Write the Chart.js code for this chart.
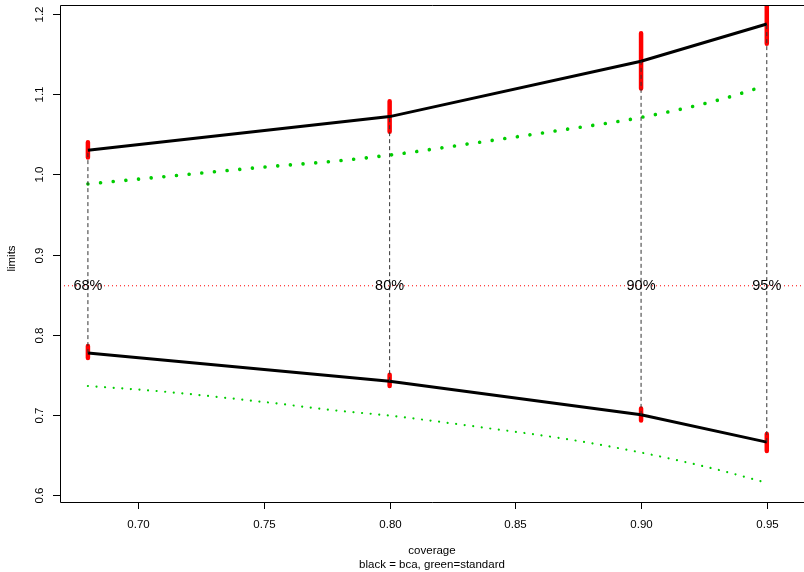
<!DOCTYPE html>
<html>
<head>
<meta charset="utf-8">
<script src="https://cdn.jsdelivr.net/npm/chart.js@4"></script>
<style>
  body { margin: 0; background: #fff; }
  #wrap { width: 804px; height: 572px; }
</style>
</head>
<body>
<div id="wrap"><canvas id="limitsChart" width="804" height="572"></canvas></div>
<script>
// coverage levels and bca limits
const coverage = [0.68, 0.80, 0.90, 0.95];
const coverageLabels = ["68%", "80%", "90%", "95%"];
const bcaUpper = [1.030, 1.072, 1.141, 1.1875];
const bcaLower = [0.777, 0.742, 0.700, 0.666];

// red bars (spread of the bca limits)
const upperBarLo = [1.021, 1.053, 1.107, 1.163];
const upperBarHi = [1.040, 1.091, 1.176, 1.215];
const lowerBarLo = [0.771, 0.736, 0.693, 0.655];
const lowerBarHi = [0.786, 0.750, 0.708, 0.676];

// standard limits (green dotted curves)
const stdX = [0.68, 0.71, 0.75, 0.78, 0.80, 0.84, 0.87, 0.90, 0.93, 0.949];
const stdUpper = [0.988, 0.997, 1.009, 1.017, 1.024, 1.042, 1.056, 1.071, 1.092, 1.110];
const stdLower = [0.736, 0.729, 0.716, 0.705, 0.699, 0.683, 0.670, 0.653, 0.632, 0.616];

const centre = 0.861;

const xTicks = [0.70, 0.75, 0.80, 0.85, 0.90, 0.95];
const yTicks = [0.6, 0.7, 0.8, 0.9, 1.0, 1.1, 1.2];

const xMin = 0.6689, xMax = 0.9648;
const yMin = 0.5913, yMax = 1.2112;

const FONT = "'Liberation Sans', Arial, Helvetica, sans-serif";

function pts(xs, ys) {
    return xs.map((x, i) => ({ x: x, y: ys[i] }));
}

// vertical segments separated by gaps
function segments(xs, lo, hi) {
    const out = [];
    xs.forEach((x, i) => {
        out.push({ x: x, y: lo[i] });
        out.push({ x: x, y: hi[i] });
        out.push({ x: x, y: null });
    });
    return out;
}

const rAxes = {
    id: "rAxes",
    afterDraw(chart) {
        const ctx = chart.ctx;
        const a = chart.chartArea;
        const xs = chart.scales.x, ys = chart.scales.y;
        ctx.save();
        ctx.strokeStyle = "#000";
        ctx.lineWidth = 1;
        // box: right side falls outside the page
        ctx.beginPath();
        ctx.moveTo(chart.width, a.top + 0.5);
        ctx.lineTo(a.left + 0.5, a.top + 0.5);
        ctx.lineTo(a.left + 0.5, a.bottom + 0.5);
        ctx.lineTo(chart.width, a.bottom + 0.5);
        ctx.stroke();

        ctx.fillStyle = "#000";
        ctx.font = "11.5px " + FONT;
        ctx.textAlign = "center";
        ctx.textBaseline = "middle";
        xTicks.forEach(v => {
            const px = Math.round(xs.getPixelForValue(v)) + 0.5;
            ctx.beginPath();
            ctx.moveTo(px, a.bottom);
            ctx.lineTo(px, a.bottom + 7);
            ctx.stroke();
            ctx.fillText(v.toFixed(2), px, a.bottom + 23);
        });
        yTicks.forEach(v => {
            const py = Math.round(ys.getPixelForValue(v)) + 0.5;
            ctx.beginPath();
            ctx.moveTo(a.left, py);
            ctx.lineTo(a.left - 7, py);
            ctx.stroke();
            ctx.save();
            ctx.translate(a.left - 20, py);
            ctx.rotate(-Math.PI / 2);
            ctx.fillText(v.toFixed(1), 0, 0);
            ctx.restore();
        });

        const cx = (a.left + a.right) / 2;
        ctx.fillText("coverage", cx, 551);
        ctx.fillText("black = bca, green=standard", cx, 565);
        ctx.save();
        ctx.translate(12, (a.top + a.bottom) / 2 + 5);
        ctx.rotate(-Math.PI / 2);
        ctx.fillText("limits", 0, 0);
        ctx.restore();

        ctx.font = "14.5px " + FONT;
        coverage.forEach((c, i) => {
            ctx.fillText(coverageLabels[i], xs.getPixelForValue(c), ys.getPixelForValue(centre));
        });
        ctx.restore();
    }
};

const ctx = document.getElementById("limitsChart").getContext("2d");
new Chart(ctx, {
    type: "line",
    data: {
        datasets: [
            {
                label: "centre",
                data: [{ x: xMin, y: centre }, { x: xMax, y: centre }],
                borderColor: "#ff0000",
                borderWidth: 1,
                borderDash: [1, 3],
                order: 6
            },
            {
                label: "standard upper",
                data: pts(stdX, stdUpper),
                borderColor: "#00cd00",
                borderWidth: 3.6,
                borderDash: [0.01, 12.7],
                borderCapStyle: "round",
                cubicInterpolationMode: "monotone",
                order: 5
            },
            {
                label: "standard lower",
                data: pts(stdX, stdLower),
                borderColor: "#00cd00",
                borderWidth: 2.2,
                borderDash: [0.01, 8.6],
                borderCapStyle: "round",
                cubicInterpolationMode: "monotone",
                order: 5
            },
            {
                label: "upper bars",
                data: segments(coverage, upperBarLo, upperBarHi),
                borderColor: "#ff0000",
                borderWidth: 4.5,
                borderCapStyle: "round",
                spanGaps: false,
                order: 4
            },
            {
                label: "lower bars",
                data: segments(coverage, lowerBarLo, lowerBarHi),
                borderColor: "#ff0000",
                borderWidth: 4.5,
                borderCapStyle: "round",
                spanGaps: false,
                order: 4
            },
            {
                label: "bca upper",
                data: pts(coverage, bcaUpper),
                borderColor: "#000",
                borderWidth: 3,
                order: 3
            },
            {
                label: "bca lower",
                data: pts(coverage, bcaLower),
                borderColor: "#000",
                borderWidth: 3,
                order: 3
            },
            {
                label: "spans",
                data: segments(coverage, bcaLower, bcaUpper),
                borderColor: "#333",
                borderWidth: 1,
                borderDash: [4, 3],
                spanGaps: false,
                order: 2
            }
        ]
    },
    options: {
        responsive: false,
        animation: false,
        layout: { padding: { left: 60, top: 5, right: 0, bottom: 70 } },
        elements: { point: { radius: 0, hoverRadius: 0 }, line: { fill: false } },
        plugins: { legend: { display: false }, tooltip: { enabled: false } },
        scales: {
            x: { type: "linear", min: xMin, max: xMax, display: false },
            y: { type: "linear", min: yMin, max: yMax, display: false }
        }
    },
    plugins: [rAxes]
});
</script>
</body>
</html>
